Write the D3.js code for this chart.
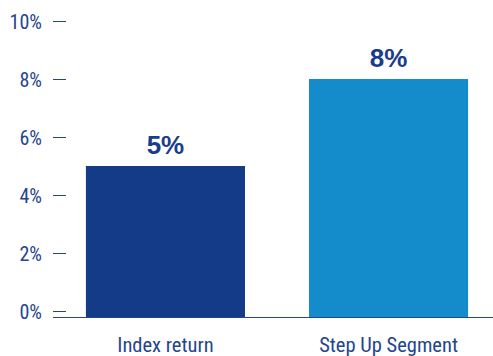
<!DOCTYPE html>
<html>
<head>
<meta charset="utf-8">
<script src="https://cdn.jsdelivr.net/npm/d3@7"></script>
<style>
  html, body { margin: 0; padding: 0; background: #fff; }
  svg { display: block; }
</style>
</head>
<body>
<svg id="chart" width="493" height="356"></svg>
<script>
// Returns by product, in percent
const categories = ["Index return", "Step Up Segment"];
const values = [5, 8];
const barColors = ["#143b88", "#148bcb"];
const tickValues = [0, 2, 4, 6, 8, 10];

const svg = d3.select("#chart");
const textColor = "#24458f";
const narrowFont = "'Liberation Sans Narrow', 'Roboto Condensed', 'Arial Narrow', sans-serif";

const x = d3.scaleBand()
  .domain(categories)
  .range([54, 500])
  .paddingInner(0.287)
  .paddingOuter(0.143);

const y = d3.scaleLinear().domain([0, 10]).range([311, 21]);
const baseY = 317;

// y axis: short tick dashes with percent labels
const yAxis = d3.axisLeft(y)
  .tickValues(tickValues)
  .tickSize(13)
  .tickPadding(11)
  .tickFormat(d => d + "%");

const gy = svg.append("g").attr("transform", "translate(66,0)").call(yAxis);
gy.select(".domain").remove();
gy.selectAll(".tick line").attr("stroke", textColor).attr("stroke-width", 1);
gy.selectAll(".tick text")
  .attr("fill", textColor)
  .attr("font-family", narrowFont)
  .attr("font-size", 20)
  .attr("dy", "0.36em");

// bars
svg.selectAll("rect.bar")
  .data(values)
  .join("rect")
  .attr("class", "bar")
  .attr("x", (d, i) => x(categories[i]))
  .attr("width", x.bandwidth())
  .attr("y", d => y(d))
  .attr("height", d => baseY - y(d))
  .attr("fill", (d, i) => barColors[i]);

// baseline
svg.append("line")
  .attr("x1", 53).attr("x2", 493)
  .attr("y1", baseY + 0.5).attr("y2", baseY + 0.5)
  .attr("stroke", textColor).attr("stroke-width", 1.2);

// value labels above bars
svg.selectAll("text.value")
  .data(values)
  .join("text")
  .attr("class", "value")
  .attr("x", (d, i) => x(categories[i]) + x.bandwidth() / 2)
  .attr("y", d => y(d) - 12.5)
  .attr("text-anchor", "middle")
  .attr("fill", "#1b3c8a")
  .attr("font-family", "'Liberation Sans', Arial, sans-serif")
  .attr("font-weight", "bold")
  .attr("font-size", 26)
  .text(d => d + "%");

// category labels
svg.selectAll("text.cat")
  .data(categories)
  .join("text")
  .attr("class", "cat")
  .attr("x", d => x(d) + x.bandwidth() / 2)
  .attr("y", 352)
  .attr("text-anchor", "middle")
  .attr("fill", textColor)
  .attr("font-family", narrowFont)
  .attr("font-size", 20.5)
  .text(d => d);
</script>
</body>
</html>
